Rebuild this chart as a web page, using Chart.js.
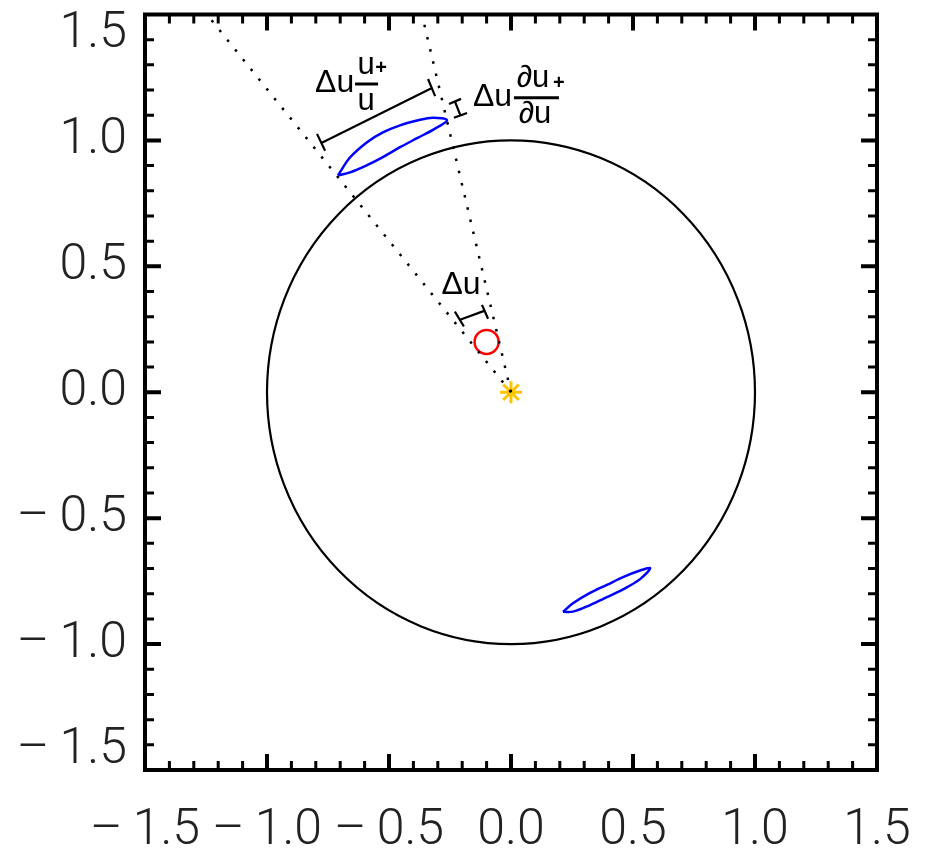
<!DOCTYPE html>
<html>
<head>
<meta charset="utf-8">
<script src="https://cdn.jsdelivr.net/npm/chart.js@4/dist/chart.umd.min.js"></script>
<style>
  body { margin: 0; background: #fff; }
  #wrap { width: 932px; height: 850px; }
</style>
</head>
<body>
<div id="wrap"><canvas id="chart"></canvas></div>
<script>
// Axis ticks and their labels.
const tickValues = [-1.5, -1.0, -0.5, 0.0, 0.5, 1.0, 1.5];
const xTickLabels = ['\u2013\u20091.5', '\u2013\u20091.0', '\u2013\u20090.5', '0.0', '0.5', '1.0', '1.5'];
const yTickLabels = ['\u2013\u20091.5', '\u2013\u20091.0', '\u2013\u20090.5', '0.0', '0.5', '1.0', '1.5'];

// The unit circle.
const circleCenter = [0, 0];
const circleRadius = 1;

// Dotted lines from the origin.
const dottedLineA = [{x: 0, y: 0}, {x: -1.246, y: 1.5}];
const dottedLineB = [{x: 0, y: 0}, {x: -0.365, y: 1.5}];

// Upper blue contour (closed).
const upperContour = [
    {x: -0.709, y: 0.861}, {x: -0.660, y: 0.932}, {x: -0.590, y: 0.993},
    {x: -0.525, y: 1.032}, {x: -0.455, y: 1.060}, {x: -0.385, y: 1.079},
    {x: -0.320, y: 1.090}, {x: -0.262, y: 1.080}, {x: -0.320, y: 1.042},
    {x: -0.385, y: 1.009}, {x: -0.455, y: 0.973}, {x: -0.525, y: 0.934},
    {x: -0.590, y: 0.902}, {x: -0.660, y: 0.873}, {x: -0.709, y: 0.861}
];

// Lower blue contour (closed).
const lowerContour = [
    {x: 0.213, y: -0.872}, {x: 0.254, y: -0.838}, {x: 0.324, y: -0.797},
    {x: 0.393, y: -0.765}, {x: 0.459, y: -0.734}, {x: 0.529, y: -0.708},
    {x: 0.570, y: -0.699}, {x: 0.529, y: -0.742}, {x: 0.459, y: -0.783},
    {x: 0.393, y: -0.814}, {x: 0.324, y: -0.845}, {x: 0.254, y: -0.871},
    {x: 0.213, y: -0.872}
];

// Measurement bars, each made of cap, stem, cap (null breaks the line).
const gap = {x: null, y: null};
const barLong = [
    {x: -0.795, y: 1.026}, {x: -0.762, y: 0.959}, gap,
    {x: -0.775, y: 0.991}, {x: -0.324, y: 1.208}, gap,
    {x: -0.340, y: 1.244}, {x: -0.311, y: 1.176}
];
const barShort = [
    {x: -0.254, y: 1.145}, {x: -0.205, y: 1.165}, gap,
    {x: -0.230, y: 1.155}, {x: -0.207, y: 1.099}, gap,
    {x: -0.234, y: 1.090}, {x: -0.180, y: 1.109}
];
const barInner = [
    {x: -0.230, y: 0.320}, {x: -0.193, y: 0.261}, gap,
    {x: -0.209, y: 0.288}, {x: -0.107, y: 0.324}, gap,
    {x: -0.119, y: 0.347}, {x: -0.094, y: 0.292}
];

// Markers.
const redCircle = [{x: -0.1, y: 0.2}];
const starPoint = [{x: 0, y: 0}];

// Where the annotation labels sit, in data units.
const labelLong = {x: -0.803, y: 1.228};
const labelShort = {x: -0.156, y: 1.173};
const labelInner = {x: -0.205, y: 0.426};

const FONT = '"Liberation Sans", Arial, Helvetica, sans-serif';
const TICK_FONT = 'Roboto, "Liberation Sans", Arial, sans-serif';

/**
 * Draws a "Δu" followed by a fraction, starting at the left middle point (px, py).
 */
function drawFraction( ctx, px, py, numer, denom, barStart, barEnd, numX, denX, plusX, plusY ) {
    ctx.fillStyle = '#000';
    ctx.font = '32px ' + FONT;
    ctx.textAlign = 'left';
    ctx.textBaseline = 'middle';
    ctx.fillText( '\u0394u', px, py );
    ctx.font = '31px ' + FONT;
    ctx.textAlign = 'center';
    ctx.fillText( numer, px + numX, py - 18 );
    ctx.fillText( denom, px + denX, py + 18 );
    ctx.beginPath();
    ctx.moveTo( px + barStart, py + 1 );
    ctx.lineTo( px + barEnd, py + 1 );
    ctx.lineWidth = 3;
    ctx.strokeStyle = '#000';
    ctx.stroke();
    ctx.font = 'bold 20px ' + FONT;
    ctx.fillText( '+', px + plusX, py + plusY );
}

const decorPlugin = {
    id: 'decor',
    beforeDatasetsDraw( chart ) {
        const {ctx, chartArea, scales: {x, y}} = chart;
        ctx.save();
        ctx.beginPath();
        ctx.rect( chartArea.left, chartArea.top, chartArea.width, chartArea.height );
        ctx.clip();
        // The unit circle, through the scales.
        const cx = x.getPixelForValue( circleCenter[0] );
        const cy = y.getPixelForValue( circleCenter[1] );
        const rx = Math.abs( x.getPixelForValue( circleCenter[0] + circleRadius ) - cx );
        const ry = Math.abs( y.getPixelForValue( circleCenter[1] + circleRadius ) - cy );
        ctx.beginPath();
        ctx.ellipse( cx, cy, rx, ry, 0, 0, Math.PI * 2 );
        ctx.strokeStyle = '#000';
        ctx.lineWidth = 2.2;
        ctx.stroke();
        ctx.restore();
    },
    afterDatasetsDraw( chart ) {
        const {ctx, chartArea: a, scales: {x, y}} = chart;
        ctx.save();
        ctx.strokeStyle = '#000';
        ctx.lineCap = 'butt';
        // Ticks pointing inward on all four sides.
        for ( let i = -14; i <= 14; i++ ) {
            const v = i / 10;
            const major = i % 5 === 0;
            const len = major ? 16 : 9;
            ctx.lineWidth = major ? 4 : 3;
            const px = x.getPixelForValue( v );
            const py = y.getPixelForValue( v );
            ctx.beginPath();
            ctx.moveTo( px, a.bottom ); ctx.lineTo( px, a.bottom - len );
            ctx.moveTo( px, a.top ); ctx.lineTo( px, a.top + len );
            ctx.moveTo( a.left, py ); ctx.lineTo( a.left + len, py );
            ctx.moveTo( a.right, py ); ctx.lineTo( a.right - len, py );
            ctx.stroke();
        }
        // Frame.
        ctx.lineWidth = 4;
        ctx.strokeRect( a.left, a.top, a.right - a.left, a.bottom - a.top );

        // Annotation texts.
        const l1x = x.getPixelForValue( labelLong.x ), l1y = y.getPixelForValue( labelLong.y );
        drawFraction( ctx, l1x, l1y, 'u', 'u', 40, 63, 51, 51, 66, -15 );
        const l2x = x.getPixelForValue( labelShort.x ), l2y = y.getPixelForValue( labelShort.y );
        drawFraction( ctx, l2x, l2y, '\u2202u', '\u2202u', 41, 86, 60, 62, 86, -13 );
        ctx.font = '32px ' + FONT;
        ctx.textAlign = 'center';
        ctx.textBaseline = 'middle';
        ctx.fillStyle = '#000';
        ctx.fillText( '\u0394u', x.getPixelForValue( labelInner.x ), y.getPixelForValue( labelInner.y ) );
        ctx.restore();
    }
};

const lineSet = ( data, color, width, dash ) => ({
    data: data,
    showLine: true,
    borderColor: color,
    borderWidth: width,
    borderDash: dash || [],
    pointRadius: 0,
    fill: false,
    spanGaps: false
});

const upper = lineSet( upperContour, '#0000FF', 2.5 );
upper.tension = 0.35;
const lower = lineSet( lowerContour, '#0000FF', 2.5 );
lower.tension = 0.35;

new Chart( document.getElementById( 'chart' ), {
    type: 'scatter',
    data: {
        datasets: [
            lineSet( dottedLineA, '#000', 2.5, [2.5, 10] ),
            lineSet( dottedLineB, '#000', 2.5, [2.5, 10] ),
            upper,
            lower,
            lineSet( barLong, '#000', 2.2 ),
            lineSet( barShort, '#000', 2.2 ),
            lineSet( barInner, '#000', 2.2 ),
            {
                data: redCircle,
                pointRadius: 12,
                pointStyle: 'circle',
                borderColor: '#FF0000',
                backgroundColor: 'rgba(0,0,0,0)',
                borderWidth: 2.5
            },
            {
                data: starPoint,
                pointRadius: 11,
                pointStyle: 'star',
                borderColor: '#FFC400',
                backgroundColor: '#FFC400',
                borderWidth: 3
            },
            {
                data: starPoint,
                pointRadius: 1.8,
                pointStyle: 'circle',
                borderColor: '#000',
                backgroundColor: '#000',
                borderWidth: 0
            }
        ]
    },
    options: {
        responsive: true,
        maintainAspectRatio: false,
        animation: false,
        events: [],
        layout: { padding: { top: 10, right: 55, bottom: 0, left: 0 } },
        plugins: {
            legend: { display: false },
            tooltip: { enabled: false }
        },
        scales: {
            x: {
                type: 'linear',
                min: -1.5,
                max: 1.5,
                grid: { display: false, drawTicks: false },
                border: { display: false },
                ticks: {
                    stepSize: 0.5,
                    autoSkip: false,
                    maxRotation: 0,
                    padding: 31,
                    color: '#222',
                    font: { family: TICK_FONT, size: 50, weight: '300' },
                    callback: ( v, i ) => xTickLabels[i]
                },
                afterFit( s ) { s.height = 80; s.paddingLeft = 0; s.paddingRight = 0; }
            },
            y: {
                type: 'linear',
                min: -1.5,
                max: 1.5,
                grid: { display: false, drawTicks: false },
                border: { display: false },
                ticks: {
                    stepSize: 0.5,
                    autoSkip: false,
                    padding: 18,
                    color: '#222',
                    font: { family: TICK_FONT, size: 50, weight: '300', lineHeight: '39px' },
                    callback: ( v, i ) => {
                        // Keep the end labels inside the frame, as in the original.
                        if ( i === 0 ) return [yTickLabels[i], ''];
                        if ( i === tickValues.length - 1 ) return ['', yTickLabels[i]];
                        return yTickLabels[i];
                    }
                },
                afterFit( s ) { s.width = 145; s.paddingTop = 0; s.paddingBottom = 0; }
            }
        }
    },
    plugins: [decorPlugin]
});
</script>
</body>
</html>
